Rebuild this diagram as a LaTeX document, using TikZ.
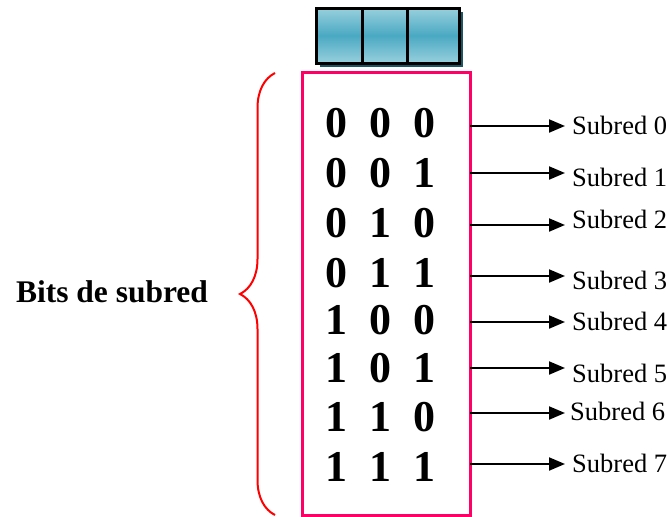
\documentclass[tikz,border=0pt]{standalone}
\usepackage{fontspec}
\setmainfont{Liberation Serif}
\usetikzlibrary{arrows.meta,decorations.pathreplacing}
\definecolor{pinkline}{HTML}{FF0066}
\definecolor{bluetop}{HTML}{98D0DD}
\definecolor{bluemid}{HTML}{4AA9C3}
\definecolor{blueshadow}{HTML}{1E5565}

\begin{document}
\begin{tikzpicture}[x=1pt,y=1pt,
  bitrow/.style={font=\fontsize{44}{48}\selectfont\bfseries,inner sep=0pt},
  sublabel/.style={anchor=west,inner sep=0pt,font=\fontsize{26.5}{30}\selectfont},
  arr/.style={line width=2pt,-{Triangle[length=16pt,width=13pt]}},
  cell/.style={draw=black,line width=3pt,top color=bluetop,bottom color=bluetop,middle color=bluemid}]
\useasboundingbox (0,0) rectangle (670,-517);

\fill[blueshadow] (320,-12) rectangle (463,-67);
\draw[cell] (316,-8) rectangle (362,-63);
\draw[cell] (362,-8) rectangle (407,-63);
\draw[cell] (407,-8) rectangle (459,-63);

\node[draw=pinkline,line width=3pt,outer sep=0pt,minimum width=168pt,minimum height=443pt] (box) at (386,-293.5) {};

\coordinate (bt) at (275,-73);
\coordinate (bb) at (275,-515);
\draw[red,line width=2pt,decorate,decoration={brace,amplitude=35pt}] (bb) -- (bt);
\node[font=\fontsize{31.5}{34}\selectfont\bfseries] (bits) at (112,-292) {Bits de subred};

\node[bitrow] (r0) at (380,-123) {0\enspace0\enspace0};
\node[bitrow] (r1) at (380,-173) {0\enspace0\enspace1};
\node[bitrow] (r2) at (380,-223) {0\enspace1\enspace0};
\node[bitrow] (r3) at (380,-273) {0\enspace1\enspace1};
\node[bitrow] (r4) at (380,-320) {1\enspace0\enspace0};
\node[bitrow] (r5) at (380,-368) {1\enspace0\enspace1};
\node[bitrow] (r6) at (380,-417) {1\enspace1\enspace0};
\node[bitrow] (r7) at (380,-467) {1\enspace1\enspace1};

\node[sublabel] (s0) at (572,-125) {Subred 0};
\node[sublabel] (s1) at (572,-177) {Subred 1};
\node[sublabel] (s2) at (572,-219) {Subred 2};
\node[sublabel] (s3) at (572,-280) {Subred 3};
\node[sublabel] (s4) at (572,-321) {Subred 4};
\node[sublabel] (s5) at (572,-373) {Subred 5};
\node[sublabel] (s6) at (570,-411) {Subred 6};
\node[sublabel] (s7) at (572,-463) {Subred 7};

\coordinate (e0) at (565,-126);
\coordinate (e1) at (565,-173);
\coordinate (e2) at (565,-225);
\coordinate (e3) at (565,-276);
\coordinate (e4) at (565,-322);
\coordinate (e5) at (565,-368);
\coordinate (e6) at (565,-413);
\coordinate (e7) at (565,-464);

\draw[arr] (box.east |- e0) -- (e0);
\draw[arr] (box.east |- e1) -- (e1);
\draw[arr] (box.east |- e2) -- (e2);
\draw[arr] (box.east |- e3) -- (e3);
\draw[arr] (box.east |- e4) -- (e4);
\draw[arr] (box.east |- e5) -- (e5);
\draw[arr] (box.east |- e6) -- (e6);
\draw[arr] (box.east |- e7) -- (e7);

\end{tikzpicture}
\end{document}
